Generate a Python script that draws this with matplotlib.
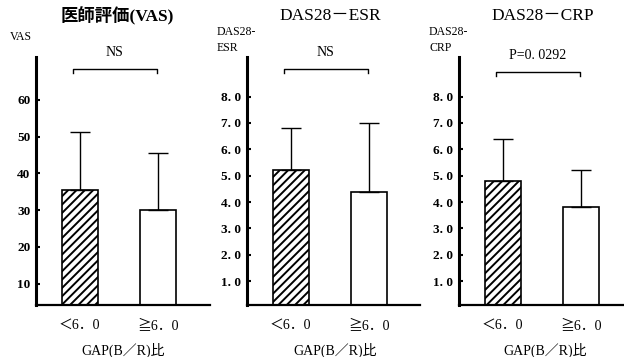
import matplotlib
matplotlib.use('Agg')
import matplotlib.pyplot as plt
import matplotlib.transforms as mtransforms
import numpy as np

plt.rcParams['font.family'] = ['Liberation Serif', 'Noto Sans CJK JP']
plt.rcParams['hatch.linewidth'] = 1.4

# data
groups = ['＜6．0', '≧6．0']
vas_mean = [35.6, 30.0]
vas_sd = [15.8, 15.7]
esr_mean = [5.2, 4.4]
esr_sd = [1.6, 2.6]
crp_mean = [4.8, 3.8]
crp_sd = [1.6, 1.4]

vas_ticks = [10, 20, 30, 40, 50, 60]
das_ticks = [1, 2, 3, 4, 5, 6, 7, 8]
das_ticklabels = ['%d. 0' % t for t in das_ticks]

W, H = 624, 357
fig = plt.figure(figsize=(W / 100, H / 100), dpi=100)

def px_axes(left, right, top=57, bottom=305):
    return fig.add_axes([left / W, 1 - bottom / H, (right - left) / W, (bottom - top) / H])

panels = [
    dict(ax=px_axes(36, 210), mean=vas_mean, sd=vas_sd, ylim=(4.2, 71.7),
         ticks=vas_ticks, ticklabels=[str(t) for t in vas_ticks],
         title='医師評価(VAS)', tw='bold', tx=117, ylab='VAS', ylx=10, yly=37,
         sig='NS', by=0.952, xl=123),
    dict(ax=px_axes(247, 420), mean=esr_mean, sd=esr_sd, ylim=(0.1, 9.5),
         ticks=das_ticks, ticklabels=das_ticklabels,
         title='DAS28－ESR', tw='normal', tx=330, ylab='DAS28-\nESR', ylx=217, yly=40,
         sig='NS', by=0.952, xl=335),
    dict(ax=px_axes(459, 624), mean=crp_mean, sd=crp_sd, ylim=(0.1, 9.5),
         ticks=das_ticks, ticklabels=das_ticklabels,
         title='DAS28－CRP', tw='normal', tx=543, ylab='DAS28-\nCRP', ylx=429, yly=40,
         sig='P=0. 0292', by=0.94, xl=545),
]

for p in panels:
    ax = p['ax']
    x = np.arange(2)
    ax.bar(x, p['mean'], width=0.46, color=['white', 'white'], edgecolor='black',
           linewidth=1.2, hatch=['////', ''])
    ax.errorbar(x, p['mean'], yerr=[np.zeros(2), p['sd']], fmt='none',
                ecolor='black', elinewidth=1.0, capsize=7, capthick=1.0)
    ax.set_xlim(-0.56, (ax.get_position().width * W - 44) / 78)
    ax.set_ylim(*p['ylim'])
    ax.set_yticks(p['ticks'])
    ax.set_yticklabels(p['ticklabels'], fontsize=9.5, fontweight='bold')
    ax.set_xticks(x)
    ax.set_xticklabels(groups, fontsize=10)
    ax.tick_params(axis='x', length=0, pad=10)
    ax.tick_params(axis='y', direction='in', length=3, width=1.5, pad=4)
    for s in ['top', 'right']:
        ax.spines[s].set_visible(False)
    ax.spines['left'].set_linewidth(2.2)
    ax.spines['bottom'].set_linewidth(1.6)

    # significance bracket
    tr = mtransforms.blended_transform_factory(ax.transData, ax.transAxes)
    b0, b1 = -0.09, 0.99
    ax.plot([b0, b0, b1, b1], [p['by'] - 0.017, p['by'], p['by'], p['by'] - 0.017],
            color='black', lw=1.0, transform=tr, clip_on=False)
    ax.text((b0 + b1) / 2, p['by'] + 0.065, p['sig'], transform=tr, ha='center',
            va='center', fontsize=10)

    fig.text(p['tx'] / W, 1 - 16 / H, p['title'], ha='center', va='center',
             fontsize=12.5, fontweight=p['tw'])
    fig.text(p['ylx'] / W, 1 - p['yly'] / H, p['ylab'], ha='left', va='center',
             fontsize=8.5, linespacing=1.4)
    fig.text(p['xl'] / W, 1 - 350 / H, 'GAP(B／R)比', ha='center', va='center',
             fontsize=10)

fig.savefig('out.png', dpi=100, facecolor='white')
